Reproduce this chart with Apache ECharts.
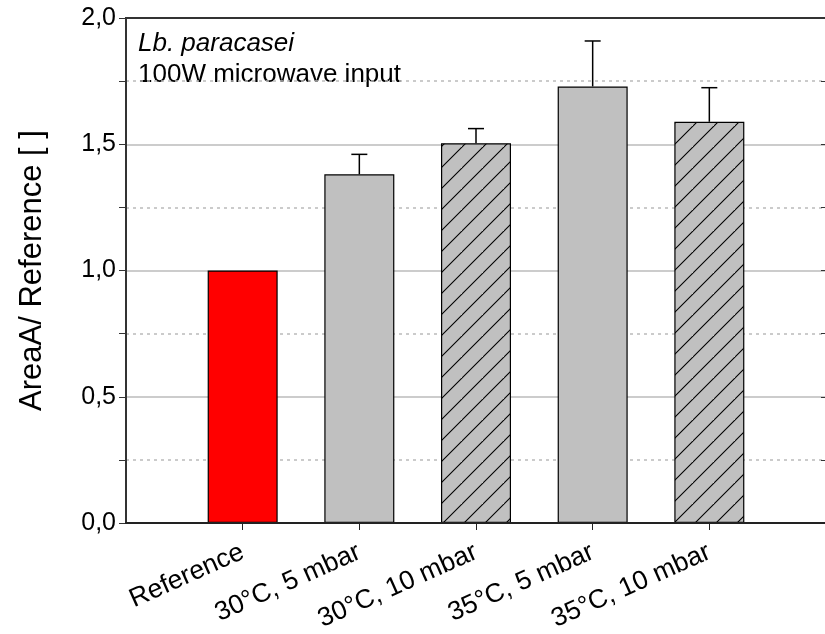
<!DOCTYPE html>
<html>
<head>
<meta charset="utf-8">
<script src="https://cdn.jsdelivr.net/npm/echarts@6/dist/echarts.min.js"></script>
<style>html,body{margin:0;padding:0;background:#fff}#c{width:825px;height:634px}</style>
</head>
<body>
<div id="c"></div>
<script>
var categories = ['Reference', '30°C, 5 mbar', '30°C, 10 mbar', '35°C, 5 mbar', '35°C, 10 mbar'];
var values = [1.0, 1.381, 1.504, 1.729, 1.589];
var errorTops = [null, 1.460, 1.562, 1.909, 1.724];
var hatched = [false, false, true, false, true];
var yTicks = [0, 0.5, 1.0, 1.5, 2.0];

var FONT = 'Liberation Sans, Arial, sans-serif';

function hatchPattern() {
  var s = 21;
  var cv = document.createElement('canvas');
  cv.width = s; cv.height = s;
  var ctx = cv.getContext('2d');
  ctx.fillStyle = '#c0c0c0';
  ctx.fillRect(0, 0, s, s);
  ctx.strokeStyle = '#000';
  ctx.lineWidth = 1.1;
  ctx.beginPath();
  ctx.moveTo(-2, s + 2); ctx.lineTo(s + 2, -2);
  ctx.moveTo(-2 - s, s + 2); ctx.lineTo(2, -2);
  ctx.moveTo(s - 2, 2 * s + 2); ctx.lineTo(2 * s + 2, s - 2);
  ctx.stroke();
  return cv;
}
var pat = hatchPattern();

var xCats = [''].concat(categories).concat(['']);
var barData = values.map(function (v, i) {
  var color = i === 0 ? '#ff0000' : (hatched[i] ? { image: pat, repeat: 'repeat' } : '#c0c0c0');
  return { value: v, itemStyle: { color: color } };
});
var barSeriesData = [null].concat(barData).concat([null]);
var errData = [];
errorTops.forEach(function (t, i) { if (t !== null) errData.push([i + 1, values[i], t]); });

var fmt = function (v) { return v.toFixed(1).replace('.', ','); };

var chart = echarts.init(document.getElementById('c'));
chart.setOption({
  animation: false,
  textStyle: { fontFamily: FONT },
  grid: { left: 126, top: 18, width: 700, height: 505, outerBoundsMode: 'none', containLabel: false,
          show: true, borderColor: '#333', borderWidth: 2, backgroundColor: 'transparent' },
  xAxis: [{
    type: 'category',
    data: xCats,
    boundaryGap: false,
    z: 10,
    axisLine: { lineStyle: { color: '#222', width: 2 } },
    axisTick: { length: 7, lineStyle: { color: '#222' }, interval: function (i) { return i > 0 && i < 6; } },
    axisLabel: { interval: 0, rotate: 24, fontSize: 26.5, color: '#000', fontFamily: FONT, margin: 28 },
    splitLine: { show: false }
  }, {
    type: 'category',
    data: xCats,
    boundaryGap: false,
    position: 'top',
    z: 10,
    axisLine: { show: true, onZero: false, lineStyle: { color: '#333', width: 2 } },
    axisTick: { show: false },
    axisLabel: { show: false }
  }],
  yAxis: [{
    type: 'value',
    min: 0, max: 2, interval: 0.5,
    name: 'AreaA/ Reference [ ]',
    nameLocation: 'middle',
    nameGap: 78,
    nameTextStyle: { fontSize: 31, color: '#000', fontFamily: FONT },
    axisLine: { show: true, lineStyle: { color: '#333', width: 2 } },
    axisTick: { show: true, length: 7, lineStyle: { color: '#333' } },
    minorTick: { show: true, splitNumber: 2, length: 7, lineStyle: { color: '#333' } },
    axisLabel: { fontSize: 25, color: '#000', fontFamily: FONT, margin: 10, formatter: fmt },
    splitLine: { show: true, showMaxLine: false, lineStyle: { color: '#cccccc', width: 2 } },
    minorSplitLine: { show: true, lineStyle: { color: '#bbbbbb', type: [3, 4], width: 1.5 } }
  }, {
    type: 'value',
    min: 0, max: 2, interval: 0.5,
    position: 'right',
    axisLine: { show: false },
    axisTick: { show: true, inside: true, length: 5, lineStyle: { color: '#333' } },
    minorTick: { show: true, splitNumber: 2, length: 5, lineStyle: { color: '#333' } },
    axisLabel: { show: false },
    splitLine: { show: false }
  }],
  graphic: [
    { type: 'text', left: 138, top: 31, style: { text: 'Lb. paracasei', font: 'italic 26px ' + FONT, fill: '#000' } },
    { type: 'text', left: 138, top: 62, style: { text: '100W microwave input', font: '26px ' + FONT, fill: '#000' } }
  ],
  series: [{
    type: 'bar',
    data: barSeriesData,
    barWidth: 70,
    itemStyle: { borderColor: '#000', borderWidth: 1.2 },
    z: 3
  }, {
    type: 'custom',
    data: errData,
    z: 4,
    renderItem: function (params, api) {
      var x = api.value(0);
      var base = api.coord([x, api.value(1)]);
      var top = api.coord([x, api.value(2)]);
      var hw = 8;
      return {
        type: 'group',
        children: [
          { type: 'line', shape: { x1: base[0], y1: base[1], x2: top[0], y2: top[1] }, style: { stroke: '#000', lineWidth: 1.5 } },
          { type: 'line', shape: { x1: top[0] - hw, y1: top[1], x2: top[0] + hw, y2: top[1] }, style: { stroke: '#000', lineWidth: 1.5 } }
        ]
      };
    }
  }]
});
</script>
</body>
</html>
